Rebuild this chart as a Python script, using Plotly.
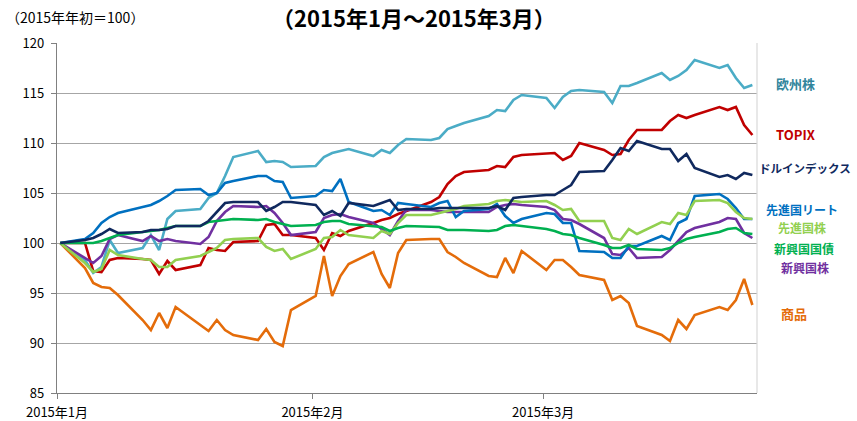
import pandas as pd
import plotly.graph_objects as go

# trading days shown (first point = base 100)
dates = pd.bdate_range("2015-01-02", "2015-03-27")

europe = [100, 98.3, 97.0, 97.6, 100.3, 99.0, 99.5, 100.8, 99.3, 102.4,
          103.2, 103.4, 104.5, 105.0, 106.7, 108.6, 109.2, 108.1, 108.2, 108.1,
          107.6, 107.7, 108.6, 109.0, 109.2, 109.4, 108.7, 109.3, 109.0, 109.8,
          110.4, 110.3, 110.5, 111.4, 111.7, 112.0, 112.7, 113.3, 113.2, 114.3,
          114.8, 114.5, 113.5, 114.6, 115.2, 115.3, 115.1, 114.0, 115.7, 115.7,
          116.0, 117.0, 116.3, 116.7, 117.3, 118.3, 117.5, 117.8, 116.5, 115.5, 115.8]
topix = [100, 100, 97.2, 97.1, 98.3, 98.5, 98.4, 98.3, 96.9, 98.2,
         97.3, 97.8, 99.5, 99.3, 99.2, 100.1, 100.2, 101.8, 101.9, 100.8,
         100.8, 100.5, 99.3, 101.0, 100.7, 101.2, 102.0, 102.3, 102.5, 102.9,
         103.2, 104.1, 104.6, 105.9, 106.7, 107.1, 107.3, 107.7, 107.6, 108.6,
         108.8, 108.9, 109.0, 108.3, 108.7, 110.0, 109.3, 108.8, 108.9, 110.3,
         111.3, 111.3, 112.2, 112.8, 112.5, 112.8, 113.6, 113.3, 113.6, 111.8, 110.8]
dollar = [100, 100.3, 100.5, 100.9, 101.4, 101.0, 101.1, 101.3, 101.3, 101.4,
          101.7, 101.7, 102.2, 103.1, 104.0, 104.1, 104.1, 103.2, 103.6, 104.1,
          104.1, 103.8, 102.8, 103.2, 102.7, 104.0, 103.7, 104.0, 104.3, 103.3,
          103.4, 103.4, 103.5, 103.5, 103.5, 103.5, 103.5, 103.7, 103.3, 104.5,
          104.6, 104.8, 104.8, 105.3, 105.8, 107.1, 107.2, 108.3, 109.5, 109.2,
          110.2, 109.4, 109.4, 108.2, 108.9, 107.5, 106.6, 106.8, 106.4, 107.0, 106.8]
reit = [100, 100.4, 101.0, 102.0, 102.6, 103.0, 103.6, 103.8, 104.2, 104.7,
        105.3, 105.4, 104.8, 105.0, 106.0, 106.2, 106.7, 106.7, 106.2, 106.1,
        104.5, 104.7, 105.3, 105.2, 106.4, 104.1, 103.2, 103.3, 102.8, 104.0,
        103.9, 103.6, 104.0, 104.2, 102.6, 103.2, 103.4, 103.9, 102.7, 102.0,
        102.4, 103.0, 102.9, 102.0, 102.0, 99.2, 99.1, 98.5, 98.5, 99.7,
        99.7, 100.7, 100.3, 102.0, 102.4, 104.7, 104.9, 104.4, 103.5, 102.4, 102.4]
dev_stock = [100, 98.0, 97.1, 97.4, 99.3, 98.8, 98.4, 98.3, 97.6, 97.6,
             98.3, 98.7, 99.1, 99.5, 100.3, 100.4, 100.5, 99.6, 99.2, 99.4,
             98.4, 99.4, 100.5, 100.6, 101.3, 100.8, 100.5, 101.2, 100.9, 102.0,
             102.8, 102.8, 103.0, 103.2, 103.4, 103.7, 103.9, 104.2, 104.3, 104.2,
             104.1, 104.2, 103.8, 103.3, 103.4, 102.2, 102.2, 100.5, 100.3, 101.4,
             100.9, 102.1, 101.9, 103.0, 102.8, 104.2, 104.3, 104.0, 103.1, 102.5, 102.4]
em_bond = [100, 100.0, 100.0, 100.2, 100.5, 100.8, 101.1, 101.2, 101.3, 101.5,
           101.7, 101.7, 102.1, 102.2, 102.3, 102.4, 102.3, 102.4, 102.1, 101.9,
           101.7, 101.8, 102.1, 102.2, 102.2, 101.9, 101.7, 101.6, 101.2, 101.5,
           101.7, 101.6, 101.6, 101.3, 101.3, 101.3, 101.2, 101.3, 101.7, 101.8,
           101.7, 101.4, 101.2, 100.9, 100.8, 100.5, 99.8, 99.5, 99.5, 99.8,
           99.4, 99.3, 99.5, 100.0, 100.4, 100.6, 101.1, 101.4, 101.5, 101.0, 100.9]
em_stock = [100, 98.5, 98.0, 98.7, 100.4, 100.8, 100.2, 100.7, 100.2, 100.4,
            100.2, 99.9, 100.6, 102.2, 103.1, 103.7, 103.6, 103.7, 103.0, 102.0,
            100.8, 101.1, 102.5, 102.8, 102.9, 102.6, 102.0, 101.4, 100.8, 102.2,
            103.3, 103.3, 103.2, 103.1, 103.1, 103.1, 103.1, 103.6, 103.8, 103.9,
            103.8, 103.6, 103.3, 102.4, 102.3, 101.9, 100.5, 98.9, 98.8, 99.5,
            98.5, 98.6, 99.3, 100.2, 101.1, 101.5, 102.1, 102.5, 102.4, 101.0, 100.5]
commodity = [100, 97.5, 96.0, 95.6, 95.5, 94.8, 92.3, 91.3, 93.0, 91.5,
             93.6, 91.8, 91.2, 92.3, 91.3, 90.8, 90.3, 91.4, 90.1, 89.7,
             93.3, 94.7, 98.7, 94.7, 96.7, 97.9, 99.1, 96.9, 95.5, 99.0,
             100.3, 100.4, 100.4, 99.1, 98.6, 98.0, 96.7, 96.6, 98.5, 97.0,
             99.2, 97.3, 98.3, 98.3, 97.6, 96.8, 96.3, 94.3, 94.7, 94.0,
             91.7, 90.8, 90.2, 92.3, 91.4, 92.8, 93.6, 93.3, 94.3, 96.4, 93.8]

month_ticks = ["2015-01-01 14:30", "2015-02-01 14:30", "2015-03-01 14:30"]
month_labels = ["2015年1月", "2015年2月", "2015年3月"]

# (name, values, line colour, label colour, label pixel position, label size)
series = [
    ("商品", commodity, "#E46C0A", "#E46C0A", (794, 313), 13),
    ("TOPIX", topix, "#C00000", "#C00000", (795, 134), 13),
    ("欧州株", europe, "#4BACC6", "#31859C", (795, 83), 13),
    ("新興国株", em_stock, "#7030A0", "#7030A0", (805, 267), 12),
    ("先進国リート", reit, "#0070C0", "#0070C0", (802, 209), 12),
    ("先進国株", dev_stock, "#92D050", "#92D050", (802, 227), 12),
    ("新興国国債", em_bond, "#00B050", "#00B050", (804, 249), 12),
    ("ドルインデックス", dollar, "#10295E", "#10295E", (805, 168), 11.5),
]

W, H = 857, 421
L, R, T, B = 57, 100, 43, 28
FONT = "Noto Sans CJK JP"


def paper(px, py):
    return (px - L) / (W - L - R), (H - B - py) / (H - T - B)


fig = go.Figure()
annotations = []
for name, vals, col, lab_col, (lx, ly), fs in series:
    fig.add_trace(go.Scatter(x=dates, y=vals, mode="lines", name=name,
                             line=dict(color=col, width=2.6)))
    ax, ay = paper(lx, ly)
    annotations.append(dict(x=ax, y=ay, xref="paper", yref="paper", text=name,
                            showarrow=False, xanchor="center", yanchor="middle",
                            font=dict(family=FONT, size=fs, color=lab_col, weight="bold")))

tx, ty = paper(414, 17)
annotations.append(dict(x=tx, y=ty, xref="paper", yref="paper",
                        text="（2015年1月～2015年3月）", showarrow=False,
                        xanchor="center", yanchor="middle",
                        font=dict(family=FONT, size=22, color="black", weight="bold")))
sx, sy = paper(4, 17)
annotations.append(dict(x=sx, y=sy, xref="paper", yref="paper",
                        text="（2015年年初＝100）", showarrow=False,
                        xanchor="left", yanchor="middle",
                        font=dict(family=FONT, size=14, color="black")))

fig.update_layout(
    width=W, height=H,
    margin=dict(l=L, r=R, t=T, b=B),
    paper_bgcolor="white", plot_bgcolor="white",
    showlegend=False,
    annotations=annotations,
    font=dict(family=FONT, size=13, color="black"),
)
fig.update_xaxes(type="date", range=[month_ticks[0], "2015-03-27 13:30"],
                 tickvals=month_ticks, ticktext=month_labels, automargin=False,
                 showgrid=False, showline=True, linecolor="#808080", linewidth=1.3,
                 ticks="outside", ticklen=5, tickcolor="#808080",
                 ticklabelstandoff=2, tickfont=dict(size=13))
fig.update_yaxes(range=[85, 120], dtick=5, showgrid=True, gridcolor="#A6A6A6",
                 gridwidth=1.2, zeroline=False, showline=True, linecolor="#808080",
                 linewidth=1.3, ticks="outside", ticklen=5, tickcolor="#808080",
                 automargin=False, ticklabelstandoff=4, tickfont=dict(size=13))
# light border on the right side of the plot area
fig.add_shape(type="line", xref="paper", yref="paper", x0=1, x1=1, y0=0, y1=1,
              line=dict(color="#D9D9D9", width=1.2))

# drop the page's default body margin so the figure sits at the top-left corner
fig.write_html("out.html", config={"displayModeBar": False},
               post_script="document.body.style.margin='0px';")
